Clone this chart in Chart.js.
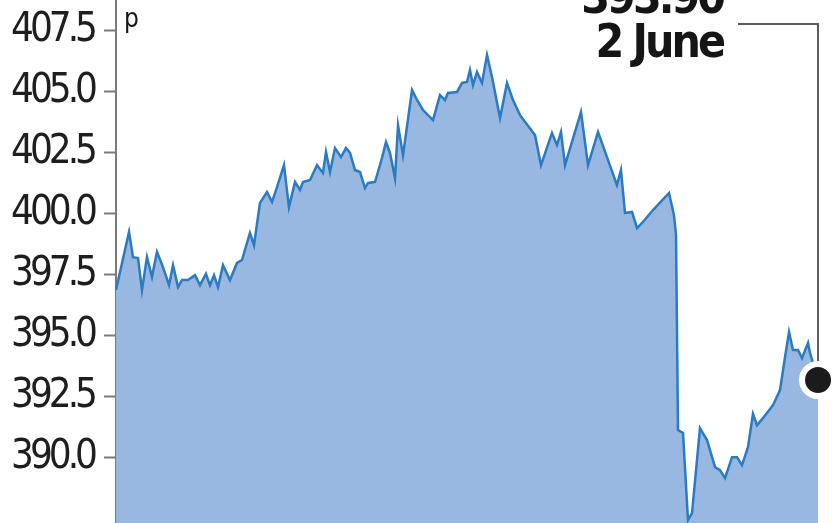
<!DOCTYPE html>
<html>
<head>
	<meta charset="utf-8">
	<title>Share price</title>
	<style>
		html, body { margin: 0; padding: 0; background: #fff; }
		#chart { display: block; }
	</style>
</head>
<body>
<canvas id="chart" width="839" height="523"></canvas>
<script src="https://cdn.jsdelivr.net/npm/chart.js@4.4.1/dist/chart.umd.min.js"></script>
<script>
	// time through the period (0 = start, 100 = 2 June close) and price in pence
	const times = [
		0, 0.57, 1.85, 2.41, 3.13, 3.69, 4.40, 5.11, 5.82, 6.68,
		7.53, 8.10, 8.81, 9.38, 10.23, 11.22, 11.93, 12.78, 13.35, 13.92,
		14.49, 15.20, 16.19, 17.19, 17.90, 18.61, 19.03, 19.60, 20.45, 21.45,
		22.16, 22.87, 23.86, 24.57, 25.43, 26.14, 26.56, 27.56, 28.55, 29.40,
		29.83, 30.40, 31.11, 31.96, 32.67, 33.24, 33.95, 34.66, 35.37, 35.80,
		36.79, 37.78, 38.35, 38.92, 39.63, 40.06, 40.77, 42.05, 42.76, 43.61,
		45.03, 46.02, 46.73, 47.16, 48.44, 49.15, 49.86, 50.28, 50.71, 51.28,
		51.99, 52.70, 53.41, 54.55, 55.54, 56.39, 57.39, 59.52, 60.37, 61.93,
		62.64, 63.21, 63.78, 66.05, 67.05, 68.47, 71.16, 71.73, 72.30, 73.30,
		74.01, 74.72, 76.28, 78.55, 79.26, 79.55, 79.83, 80.54, 81.25, 81.82,
		82.95, 83.95, 85.09, 85.80, 86.51, 87.50, 88.21, 88.92, 89.77, 90.48,
		91.05, 91.90, 93.32, 94.32, 95.03, 95.60, 96.16, 96.88, 97.44, 98.30,
		98.58, 99.72
	];
	const prices = [
		396.86, 397.60, 399.24, 398.21, 398.17, 396.86, 398.21, 397.39, 398.42, 397.80,
		397.06, 397.88, 396.98, 397.27, 397.27, 397.47, 397.06, 397.52, 397.06, 397.47,
		396.98, 397.88, 397.27, 397.97, 398.09, 398.79, 399.20, 398.70, 400.43, 400.88,
		400.47, 401.08, 401.98, 400.26, 401.29, 400.96, 401.29, 401.37, 401.98, 401.66,
		402.52, 401.70, 402.68, 402.31, 402.68, 402.48, 401.78, 401.70, 401.04, 401.25,
		401.29, 402.27, 402.93, 402.48, 401.45, 403.62, 402.39, 405.06, 404.65, 404.24,
		403.83, 404.85, 404.65, 404.94, 404.98, 405.35, 405.39, 405.88, 405.26, 405.80,
		405.35, 406.49, 405.59, 403.91, 405.35, 404.65, 404.03, 403.21, 401.98, 403.30,
		402.80, 403.34, 401.98, 404.16, 401.98, 403.34, 401.16, 401.78, 400.02, 400.06,
		399.40, 399.61, 400.14, 400.84, 399.93, 399.11, 391.12, 391.00, 387.43, 387.72,
		391.20, 390.71, 389.60, 389.48, 389.15, 390.01, 390.01, 389.68, 390.42, 391.78,
		391.32, 391.61, 392.14, 392.76, 394.11, 395.14, 394.40, 394.40, 394.07, 394.69,
		394.28, 393.17
	];
	const yTicks = [390, 392.5, 395, 397.5, 400, 402.5, 405, 407.5];
	const lastLabel = '393.90';
	const lastDate = '2 June';
	const unitLabel = 'p';

	const narrow = '"DejaVu Sans Condensed", "Liberation Sans Narrow", sans-serif';

	const callout = {
		id: 'callout',
		beforeDraw(chart) {
			// the source type is very tight, squeeze the tick labels a bit
			chart.ctx.letterSpacing = '-4px';
		},
		beforeDatasetsDraw(chart) {
			const meta = chart.getDatasetMeta(0);
			const pt = meta.data[meta.data.length - 1];
			const ctx = chart.ctx;
			ctx.save();
			ctx.strokeStyle = '#5c5c5c';
			ctx.lineWidth = 2;
			ctx.beginPath();
			ctx.moveTo(738, 24);
			ctx.lineTo(pt.x, 24);
			ctx.lineTo(pt.x, pt.y);
			ctx.stroke();
			ctx.restore();
		},
		afterDraw(chart) {
			const ctx = chart.ctx;
			ctx.save();
			ctx.fillStyle = '#151515';
			ctx.textAlign = 'right';
			ctx.textBaseline = 'alphabetic';
			ctx.letterSpacing = '-3px';
			ctx.font = 'bold 46px ' + narrow;
			ctx.fillText(lastLabel, 723, 13);
			ctx.fillText(lastDate, 723, 57);
			ctx.textAlign = 'left';
			ctx.letterSpacing = '0px';
			ctx.font = '26px ' + narrow;
			ctx.fillText(unitLabel, 124, 27);
			ctx.restore();
			ctx.letterSpacing = '0px';
		}
	};

	const last = prices.length - 1;

	new Chart(document.getElementById('chart'), {
		type: 'line',
		data: {
			datasets: [{
				data: times.map((t, i) => ({ x: t, y: prices[i] })),
				borderColor: '#2a7bc2',
				borderWidth: 2.5,
				backgroundColor: '#98b8e1',
				fill: 'start',
				tension: 0,
				clip: false,
				pointRadius: ctx => ctx.dataIndex === last ? 16 : 0,
				pointHoverRadius: 0,
				pointBackgroundColor: '#1b1b1b',
				pointBorderColor: '#ffffff',
				pointBorderWidth: 6
			}]
		},
		options: {
			responsive: false,
			animation: false,
			devicePixelRatio: 1,
			layout: { autoPadding: false, padding: { left: 0, right: 19, top: 0, bottom: 0 } },
			plugins: {
				legend: { display: false },
				tooltip: { enabled: false }
			},
			scales: {
				x: {
					type: 'linear',
					min: 0,
					max: 100,
					display: false
				},
				y: {
					min: 387.31,
					max: 408.75,
					afterBuildTicks: scale => {
						scale.ticks = yTicks.map(v => ({ value: v }));
					},
					afterFit: scale => {
						scale.width = 116;
						scale.paddingTop = 0;
						scale.paddingBottom = 0;
					},
					grid: {
						drawOnChartArea: false,
						drawTicks: true,
						tickLength: 12,
						tickWidth: 2,
						color: '#7a7a7a'
					},
					border: { display: true, color: '#7a7a7a', width: 2 },
					ticks: {
						padding: 10,
						color: '#1e1e1e',
						font: { family: narrow, size: 40 },
						callback: v => Number(v).toFixed(1)
					}
				}
			}
		},
		plugins: [callout]
	});
</script>
</body>
</html>
